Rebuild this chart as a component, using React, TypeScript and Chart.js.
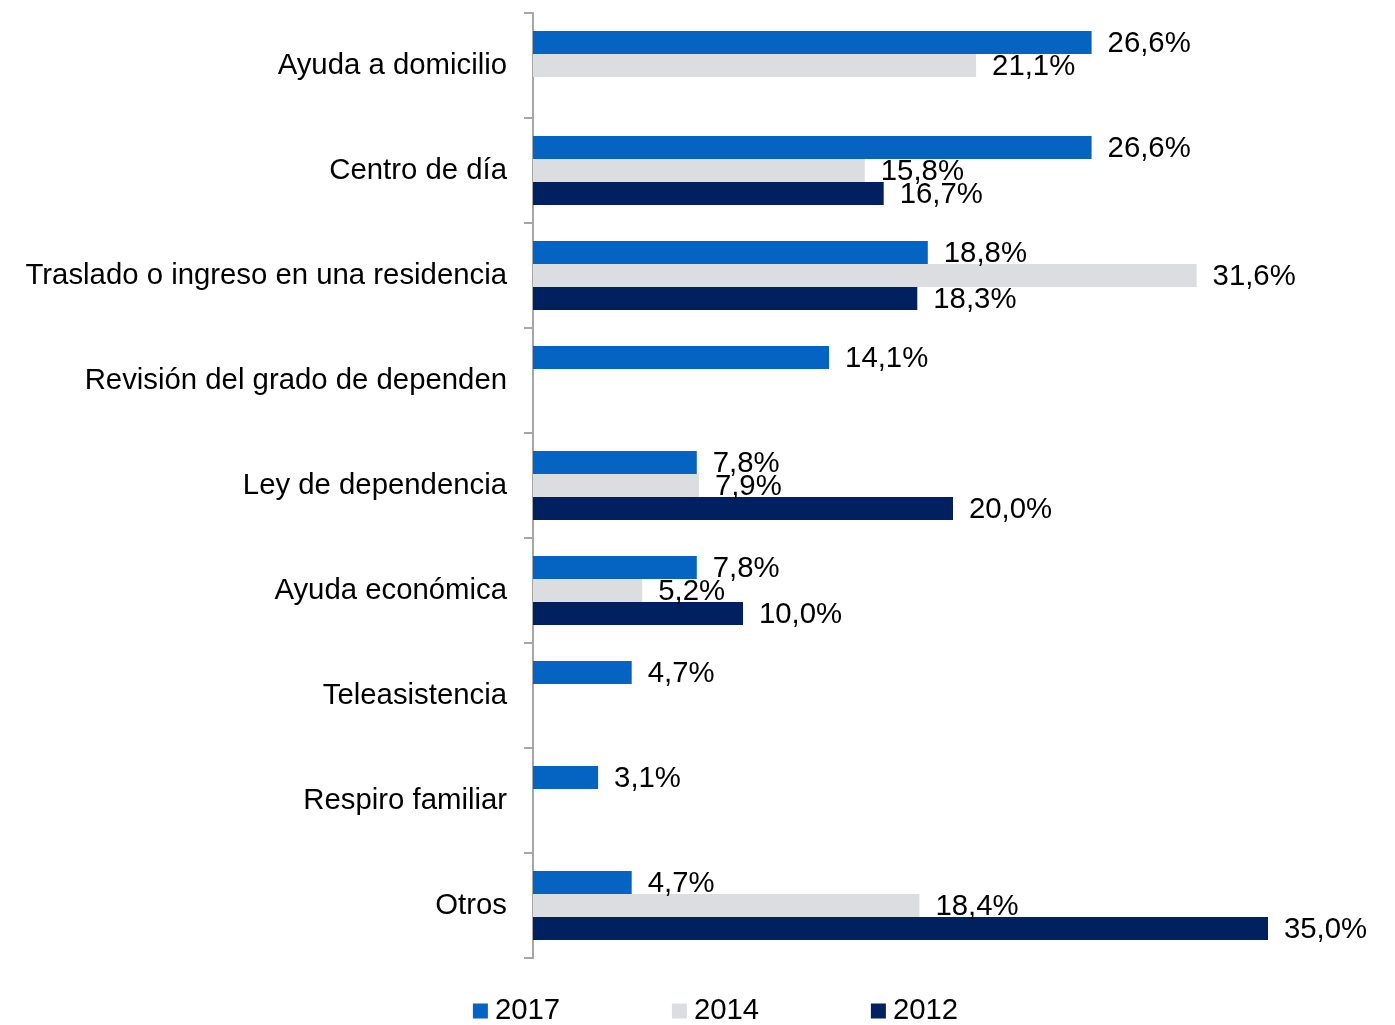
import React, { useEffect, useRef } from "react";
import { Chart, registerables } from "chart.js";

Chart.register(...registerables);

const categories = [
  "Ayuda a domicilio",
  "Centro de día",
  "Traslado o ingreso en una residencia",
  "Revisión del grado de dependen",
  "Ley de dependencia",
  "Ayuda económica",
  "Teleasistencia",
  "Respiro familiar",
  "Otros",
];

const seriesLabels = ["2017", "2014", "2012"];
const values2017: (number | null)[] = [26.6, 26.6, 18.8, 14.1, 7.8, 7.8, 4.7, 3.1, 4.7];
const values2014: (number | null)[] = [21.1, 15.8, 31.6, null, 7.9, 5.2, null, null, 18.4];
const values2012: (number | null)[] = [null, 16.7, 18.3, null, 20.0, 10.0, null, null, 35.0];
const seriesColors = ["#0563C1", "#DCDDE1", "#002060"];

const FONT = "'Liberation Sans', Arial, sans-serif";
const FONT_SIZE = 29.33;

const formatPct = (v: number) => v.toFixed(1).replace(".", ",") + "%";

const valueLabelPlugin = {
  id: "valueLabels",
  afterDatasetsDraw(chart: any) {
    const ctx = chart.ctx;
    ctx.save();
    ctx.font = `${FONT_SIZE}px ${FONT}`;
    ctx.fillStyle = "#000000";
    ctx.textAlign = "left";
    ctx.textBaseline = "middle";
    chart.data.datasets.forEach((ds: any, di: number) => {
      const meta = chart.getDatasetMeta(di);
      meta.data.forEach((el: any, i: number) => {
        const v = ds.data[i];
        if (v === null || v === undefined) return;
        ctx.fillText(formatPct(v), el.x + 16, el.y + 1);
      });
    });
    ctx.restore();
  },
};

const customLegendPlugin = {
  id: "customLegend",
  afterDraw(chart: any) {
    const ctx = chart.ctx;
    ctx.save();
    ctx.font = `${FONT_SIZE}px ${FONT}`;
    ctx.textBaseline = "middle";
    ctx.textAlign = "left";
    const box = 15;
    const gap = 7;
    const spacing = 199;
    const n = chart.data.datasets.length;
    const lastText = ctx.measureText(chart.data.datasets[n - 1].label).width;
    const total = spacing * (n - 1) + box + gap + lastText;
    const startX = chart.width / 2 + 18 - total / 2;
    const cy = chart.chartArea.bottom + 53;
    chart.data.datasets.forEach((ds: any, i: number) => {
      const x = startX + i * spacing;
      ctx.fillStyle = ds.backgroundColor;
      ctx.fillRect(x, cy - box / 2, box, box);
      ctx.fillStyle = "#000000";
      ctx.fillText(ds.label, x + box + gap, cy);
    });
    ctx.restore();
  },
};

export default function App() {
  const canvasRef = useRef<HTMLCanvasElement | null>(null);

  useEffect(() => {
    if (!canvasRef.current) return;
    const chart = new Chart(canvasRef.current, {
      type: "bar",
      data: {
        labels: categories,
        datasets: [values2017, values2014, values2012].map((vals, i) => ({
          label: seriesLabels[i],
          data: vals,
          backgroundColor: seriesColors[i],
          borderWidth: 0,
          categoryPercentage: 0.657,
          barPercentage: 1.0,
        })),
      },
      options: {
        indexAxis: "y",
        responsive: false,
        animation: false,
        layout: { padding: { left: 0, top: 13, right: 22, bottom: 67 } },
        plugins: {
          legend: { display: false },
          tooltip: { enabled: false },
        },
        scales: {
          x: {
            display: false,
            min: 0,
            max: 40,
          },
          y: {
            afterFit(scale: any) {
              scale.width = 533;
              scale.paddingTop = 0;
              scale.paddingBottom = 0;
            },
            border: { display: true, color: "#A6A6A6", width: 2 },
            grid: {
              offset: true,
              drawOnChartArea: false,
              drawTicks: true,
              tickLength: 9,
              color: "#A6A6A6",
              lineWidth: 2,
            },
            ticks: {
              color: "#000000",
              padding: 17,
              font: { family: FONT, size: FONT_SIZE },
            },
          },
        },
      } as any,
      plugins: [valueLabelPlugin, customLegendPlugin],
    });
    return () => chart.destroy();
  }, []);

  return (
    <div style={{ position: "absolute", left: 0, top: 0, width: 1395, height: 1025, background: "#ffffff" }}>
      <canvas ref={canvasRef} width={1395} height={1025} style={{ display: "block" }} />
    </div>
  );
}
